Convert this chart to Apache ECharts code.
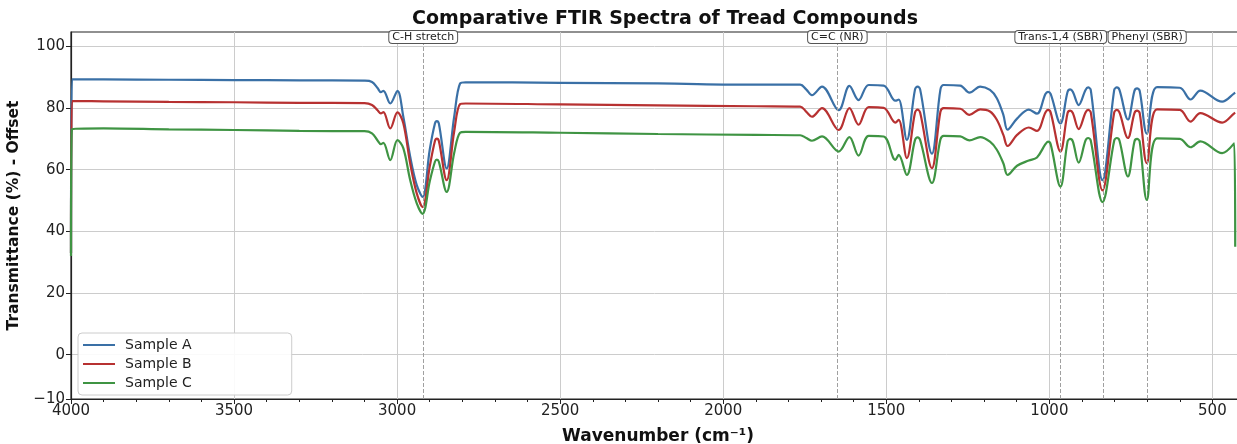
<!DOCTYPE html>
<html>
<head>
<meta charset="utf-8">
<script src="https://cdn.jsdelivr.net/npm/echarts@6/dist/echarts.min.js"></script>
<style>
  html, body { margin: 0; padding: 0; background: #ffffff; }
  #chart { width: 1237px; height: 444px; }
</style>
</head>
<body>
<div id="chart"></div>
<script>
// ---- data ----
const wavenumber = [
  4000, 3997, 3900, 3700, 3500, 3300, 3100,
  3077, 3060, 3050, 3042, 3021, 2999,
  2981, 2960, 2940, 2922, 2900,
  2884, 2878, 2872, 2848, 2825, 2807, 2790,
  2500, 2200, 1900, 1764, 1745, 1728,
  1697, 1646, 1613, 1585, 1554, 1508,
  1472, 1462, 1437, 1412, 1404, 1396, 1360, 1334, 1324,
  1273, 1245, 1212, 1182, 1161, 1141, 1128,
  1099, 1063, 1038, 1012, 1004, 996, 966,
  944, 936, 928, 910, 889, 881, 873, 837,
  801, 793, 785, 759, 739, 731, 723, 701,
  670, 600, 567, 537, 470, 433, 430
];
const sampleA = [
  33, 89.3, 89.3, 89.2, 89.1, 89.0, 88.9,
  88.5, 86.5, 85.2, 85.6, 81.5, 85.6,
  77.2, 64.3, 55.1, 51.2, 66.5,
  75.0, 75.8, 75.0, 60.4, 77.2, 88.0, 88.4,
  88.2, 88.0, 87.6, 87.6, 86.0, 84.2,
  87.0, 79.3, 87.2, 82.6, 87.5, 87.3,
  82.4, 82.8, 69.7, 86.0, 87.0, 86.0, 65.2, 86.0, 87.5,
  87.3, 85.0, 87.0, 85.9, 83.2, 77.8, 73.0,
  76.6, 79.5, 78.2, 84.6, 85.3, 84.6, 75.0,
  85.3, 86.1, 85.3, 81.0, 85.9, 86.7, 85.9, 56.6,
  85.9, 86.7, 85.9, 76.3, 85.6, 86.4, 85.6, 71.7,
  86.8, 86.6, 82.8, 85.7, 82.1, 84.8, 85.0
];
const sampleB = [
  33, 82.3, 82.2, 82.0, 81.9, 81.7, 81.6,
  81.0, 79.3, 78.3, 78.7, 73.4, 78.6,
  75.1, 62.1, 52.4, 47.9, 61.0,
  69.3, 70.1, 69.3, 56.6, 72.4, 81.3, 81.5,
  81.2, 80.9, 80.6, 80.5, 78.8, 77.2,
  80.0, 72.9, 80.0, 74.6, 80.3, 80.1,
  75.3, 76.2, 63.8, 78.5, 79.5, 78.5, 60.5, 78.8, 80.0,
  79.8, 77.8, 79.6, 78.9, 76.2, 71.3, 67.7,
  71.3, 73.7, 72.6, 78.6, 79.4, 78.6, 65.9,
  78.4, 79.2, 78.4, 73.2, 78.6, 79.4, 78.6, 53.3,
  78.6, 79.4, 78.6, 70.3, 78.4, 79.2, 78.4, 62.1,
  79.6, 79.4, 75.6, 78.4, 75.3, 78.3, 78.5
];
const sampleC = [
  32, 73.2, 73.4, 73.1, 72.9, 72.6, 72.5,
  71.8, 69.5, 68.3, 68.7, 63.1, 69.6,
  67.0, 56.7, 49.2, 45.7, 56.2,
  62.6, 63.3, 62.6, 52.8, 65.4, 72.0, 72.3,
  72.0, 71.6, 71.3, 71.2, 70.3, 69.4,
  70.8, 65.9, 70.6, 64.6, 71.0, 70.8,
  63.2, 64.8, 58.3, 69.6, 70.5, 69.6, 55.7, 69.8, 71.0,
  70.8, 69.5, 70.6, 69.1, 66.5, 62.1, 58.3,
  61.3, 63.0, 64.0, 68.3, 69.1, 68.3, 54.5,
  69.2, 70.0, 69.2, 62.3, 69.5, 70.3, 69.5, 49.5,
  69.5, 70.3, 69.5, 57.8, 69.2, 70.0, 69.2, 50.2,
  70.2, 70.0, 67.3, 69.2, 65.4, 68.6, 35
];
const seriesNames = ['Sample A', 'Sample B', 'Sample C'];
const annotationPositions = [2920, 1650, 965, 835, 700];
const annotationLabels = ['C-H stretch', 'C=C (NR)', 'Trans-1,4 (SBR)', '', 'Phenyl (SBR)'];
const xTickValues = [500, 1000, 1500, 2000, 2500, 3000, 3500, 4000];
const xMinorTickValues = [];
for (let v = 400; v <= 4000; v += 100) { if (v % 500 !== 0) xMinorTickValues.push(v); }
const yTickValues = [0, 20, 40, 60, 80, 100];
const yBottom = -14.4;
const yTop = 104.7;

// ---- chart ----
const colors = ['#3a70a6', '#b73131', '#3f9443'];
const font = 'DejaVu Sans, Liberation Sans, sans-serif';
const chart = echarts.init(document.getElementById('chart'), null, { renderer: 'canvas' });

const pairs = arr => wavenumber.map((w, i) => [w, arr[i]]);

const markData = annotationPositions.map((x, i) => ({
  xAxis: x,
  name: annotationLabels[i],
  label: { show: annotationLabels[i] !== '' }
}));

const option = {
  animation: false,
  backgroundColor: '#ffffff',
  title: {
    text: 'Comparative FTIR Spectra of Tread Compounds',
    left: 660,
    top: 5,
    textAlign: 'center',
    textStyle: { fontFamily: font, fontSize: 19, fontWeight: 'bold', color: '#111' }
  },
  grid: {
    left: 71, right: -8, top: 32, bottom: 45,
    outerBoundsMode: 'none',
    containLabel: false,
    show: true, borderColor: '#222', borderWidth: 1.2, backgroundColor: 'transparent'
  },
  legend: {
    orient: 'vertical',
    left: 78, top: 333,
    data: seriesNames,
    itemWidth: 32, itemHeight: 12, itemGap: 3,
    padding: [4, 100, 4, 5],
    backgroundColor: 'rgba(255,255,255,0.9)',
    borderColor: '#cccccc', borderWidth: 1, borderRadius: 4,
    icon: 'path://M0,5 L32,5 L32,7 L0,7 Z',
    textStyle: { fontFamily: font, fontSize: 14, lineHeight: 16, color: '#222', padding: [0, 0, 0, 5] }
  },
  xAxis: [{
    type: 'value',
    min: 400, max: 4000,
    inverse: true,
    name: 'Wavenumber (cm⁻¹)',
    nameLocation: 'middle',
    nameGap: 29,
    nameTextStyle: { fontFamily: font, fontSize: 17, fontWeight: 'bold', color: '#111' },
    axisLine: { show: true, onZero: false, lineStyle: { color: '#222', width: 1.2 } },
    axisTick: { show: true, length: 5, customValues: xTickValues, lineStyle: { color: '#222' } },
    axisLabel: { customValues: xTickValues, fontFamily: font, fontSize: 15, color: '#222', margin: 5,
      formatter: v => String(v) },
    splitLine: { show: true, lineStyle: { color: '#cccccc', width: 1 } }
  }, {
    type: 'value',
    min: 400, max: 4000,
    inverse: true,
    position: 'bottom',
    axisLine: { show: false, onZero: false },
    axisTick: { show: true, length: 3, customValues: xMinorTickValues, lineStyle: { color: '#222' } },
    axisLabel: { show: false },
    splitLine: { show: false }
  }],
  yAxis: {
    type: 'value',
    min: yBottom, max: yTop,
    name: 'Transmittance (%) - Offset',
    nameLocation: 'middle',
    nameGap: 45,
    nameTextStyle: { fontFamily: font, fontSize: 15.5, fontWeight: 'bold', color: '#111' },
    axisLine: { show: true, onZero: false, lineStyle: { color: '#222', width: 1.2 } },
    axisTick: { show: true, length: 5, customValues: [yBottom].concat(yTickValues), lineStyle: { color: '#222' } },
    axisLabel: {
      customValues: [yBottom].concat(yTickValues),
      fontFamily: font, fontSize: 15, color: '#222', margin: 6,
      formatter: v => (v < -10 ? '−10' : String(Math.round(v)))
    },
    splitLine: { show: true, lineStyle: { color: '#cccccc', width: 1 } }
  },
  series: [
    {
      name: seriesNames[0], type: 'line', data: pairs(sampleA),
      symbol: 'none', smooth: 0.35, lineStyle: { width: 2.2, color: colors[0] }, itemStyle: { color: colors[0] },
      z: 3,
      markLine: {
        silent: true, symbol: 'none',
        lineStyle: { type: 'dashed', color: '#a0a0a0', width: 1 },
        label: {
          position: 'end', distance: -11,
          formatter: '{b}',
          fontFamily: font, fontSize: 11, color: '#222',
          backgroundColor: '#ffffff', borderColor: '#555', borderWidth: 1, borderRadius: 3,
          padding: [1, 3, 0, 3]
        },
        data: markData
      }
    },
    {
      name: seriesNames[1], type: 'line', data: pairs(sampleB),
      symbol: 'none', smooth: 0.35, lineStyle: { width: 2.2, color: colors[1] }, itemStyle: { color: colors[1] }, z: 4
    },
    {
      name: seriesNames[2], type: 'line', data: pairs(sampleC),
      symbol: 'none', smooth: 0.35, lineStyle: { width: 2.2, color: colors[2] }, itemStyle: { color: colors[2] }, z: 5
    }
  ]
};
chart.setOption(option);
</script>
</body>
</html>
